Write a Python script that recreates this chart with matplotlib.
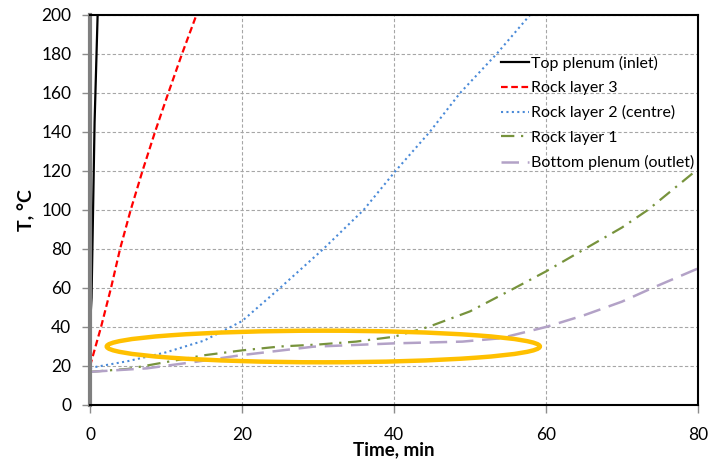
import matplotlib
matplotlib.use("Agg")
import matplotlib.pyplot as plt
from matplotlib.patches import Ellipse

plt.rcParams['font.family'] = ['Lato', 'DejaVu Sans']

# Temperature histories (time in min, temperature in degC)
top_t = [0, 0.05, 0.2, 0.6, 1.0]
top_T = [18, 44, 55, 145, 200]

rock3_t = [0, 1.45, 2.76, 3.95, 5.35, 6.9, 8.55, 10.3, 12.1, 14.0]
rock3_T = [20, 40, 60, 80, 100, 120, 140, 160, 180, 200]

rock2_t = [0, 5, 10, 15, 17.5, 20, 25, 30.7, 36, 40.2, 44.7, 48.7, 53.5, 57.9]
rock2_T = [19, 22.5, 27, 33, 38, 43, 60, 80, 100, 120, 140, 160, 180, 200]

rock1_t = [0, 5, 10, 15, 20, 25, 30, 35, 40, 44.5, 50, 55.9, 60, 65.1, 70, 73.4, 80]
rock1_T = [17, 18.5, 22, 25.5, 28, 30, 31, 32.5, 35, 40, 48, 60, 68.5, 80, 91, 100, 121]

bottom_t = [0, 7.5, 14, 20, 29.4, 40, 49, 54, 60, 65, 70, 74, 80]
bottom_T = [17, 18.8, 22.2, 25.6, 29.9, 31.6, 32.5, 34.2, 40, 46, 53, 60, 70]

labels = ["Top plenum (inlet)", "Rock layer 3", "Rock layer 2 (centre)",
          "Rock layer 1", "Bottom plenum (outlet)"]

# Highlighted plateau region
plateau_center = (30.7, 30.0)
plateau_width = 57.0
plateau_height = 16.2

fig = plt.figure(figsize=(7.1, 4.61), dpi=100)
ax = fig.add_axes([0.1268, 0.1215, 0.983 - 0.1268, 0.9675 - 0.1215])

ax.plot(top_t, top_T, color="black", lw=1.6, label=labels[0])
ax.plot(rock3_t, rock3_T, color="#ff0000", lw=1.6, ls=(0, (3, 1.6)), label=labels[1])
ax.plot(rock2_t, rock2_T, color="#4a8ad8", lw=1.5, ls=(0, (1, 1.6)), label=labels[2])
ax.plot(rock1_t, rock1_T, color="#77933c", lw=1.6, ls=(0, (6, 3, 1, 3)), label=labels[3])
ax.plot(bottom_t, bottom_T, color="#b3a2c7", lw=1.8, ls=(0, (7, 3.5)), label=labels[4])

ax.add_patch(Ellipse(plateau_center, plateau_width, plateau_height,
                     fill=False, edgecolor="#ffc000", lw=3.2, zorder=5))

ax.set_xlim(0, 80)
ax.set_ylim(0, 200)
ax.set_xticks(range(0, 81, 20))
ax.set_yticks(range(0, 201, 20))

ax.grid(True, color="#a6a6a6", ls=(0, (3, 2)), lw=0.8)
ax.set_axisbelow(True)

for side in ("top", "right", "bottom"):
    ax.spines[side].set_color("black")
    ax.spines[side].set_linewidth(1.5)
ax.spines["left"].set_color("#7f7f7f")
ax.spines["left"].set_linewidth(3)

ax.tick_params(axis="both", direction="out", length=5.5, width=1, color="#8c8c8c",
               labelsize=12.5)
ax.tick_params(axis="y", pad=8)
ax.tick_params(axis="x", pad=10)

ax.set_xlabel("Time, min", fontsize=13.5, fontweight="bold", labelpad=-1)
ax.set_ylabel("T, °C", fontsize=14, fontweight="bold", labelpad=4)

leg = ax.legend(loc="upper right", bbox_to_anchor=(1.005, 0.912), frameon=False,
                fontsize=11.5, handlelength=1.75, handletextpad=0.15,
                labelspacing=0.64, borderaxespad=0.0)

fig.savefig("out.png", dpi=100)
